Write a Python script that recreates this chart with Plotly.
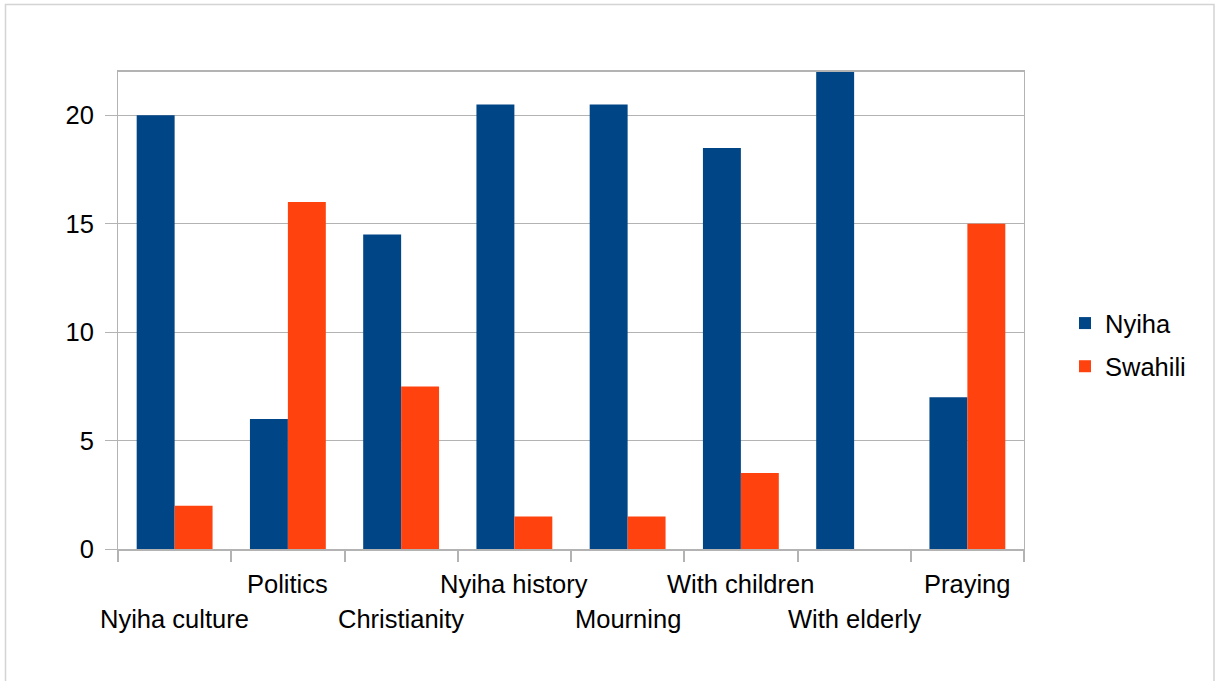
import plotly.graph_objects as go

categories = ["Nyiha culture", "Politics", "Christianity", "Nyiha history",
              "Mourning", "With children", "With elderly", "Praying"]
nyiha = [20, 6, 14.5, 20.5, 20.5, 18.5, 22, 7]
swahili = [2, 16, 7.5, 1.5, 1.5, 3.5, 0, 15]
y_ticks = [0, 5, 10, 15, 20]

W, H = 1223, 681
L, R, T, B = 118, 199, 72, 132
plot_w = W - L - R
plot_h = H - T - B

font = dict(family="Liberation Sans, Arial, sans-serif", size=25.5, color="#000000")
grid = "#b3b3b3"

fig = go.Figure()
fig.add_trace(go.Bar(name="Nyiha", x=categories, y=nyiha, marker_color="#004586",
                     marker_line_width=0, legendgroup="n"))
fig.add_trace(go.Bar(name="Swahili", x=categories, y=swahili, marker_color="#ff420e",
                     marker_line_width=0, legendgroup="s"))

# staggered category labels in two rows
for i, c in enumerate(categories):
    row = 1 if i % 2 == 0 else 0
    fig.add_annotation(x=c, xref="x", yref="paper", y=-(35 + 35 * row) / plot_h,
                       text=c, showarrow=False, yanchor="middle", xanchor="center",
                       font=font)

# light frame around the whole chart
fig.add_shape(type="rect", xref="paper", yref="paper",
              x0=(5.5 - L) / plot_w, x1=(1214 - L) / plot_w,
              y0=-(H + 20 - T - plot_h) / plot_h, y1=(T + plot_h - 4.5) / plot_h,
              line=dict(color="#d4d4d4", width=1.5), fillcolor="rgba(0,0,0,0)",
              layer="below")

fig.update_layout(
    width=W, height=H,
    margin=dict(l=L, r=R, t=T, b=B, autoexpand=False),
    paper_bgcolor="white", plot_bgcolor="white",
    barmode="group", bargap=0.33, bargroupgap=0,
    font=font,
    legend=dict(x=(1065 - L) / plot_w, xanchor="left",
                y=(T + plot_h - 345) / plot_h, yanchor="middle",
                font=font, tracegroupgap=7, itemsizing="constant",
                bgcolor="rgba(0,0,0,0)"),
    showlegend=True,
)
fig.update_xaxes(range=[-0.5, len(categories) - 0.5], showticklabels=False,
                 tickson="boundaries", ticks="outside",
                 ticklen=11, tickcolor=grid, tickwidth=1.5,
                 showline=True, linecolor=grid, linewidth=1.5, mirror=True,
                 showgrid=False)
fig.update_yaxes(range=[0, 22], tickvals=y_ticks, ticks="outside", ticklen=12,
                 tickcolor=grid, tickwidth=1, showline=True, linecolor=grid,
                 linewidth=1, mirror=True, showgrid=True, gridcolor=grid,
                 gridwidth=1, zeroline=False, tickfont=font, ticklabelstandoff=6)

fig.write_html("out.html")
